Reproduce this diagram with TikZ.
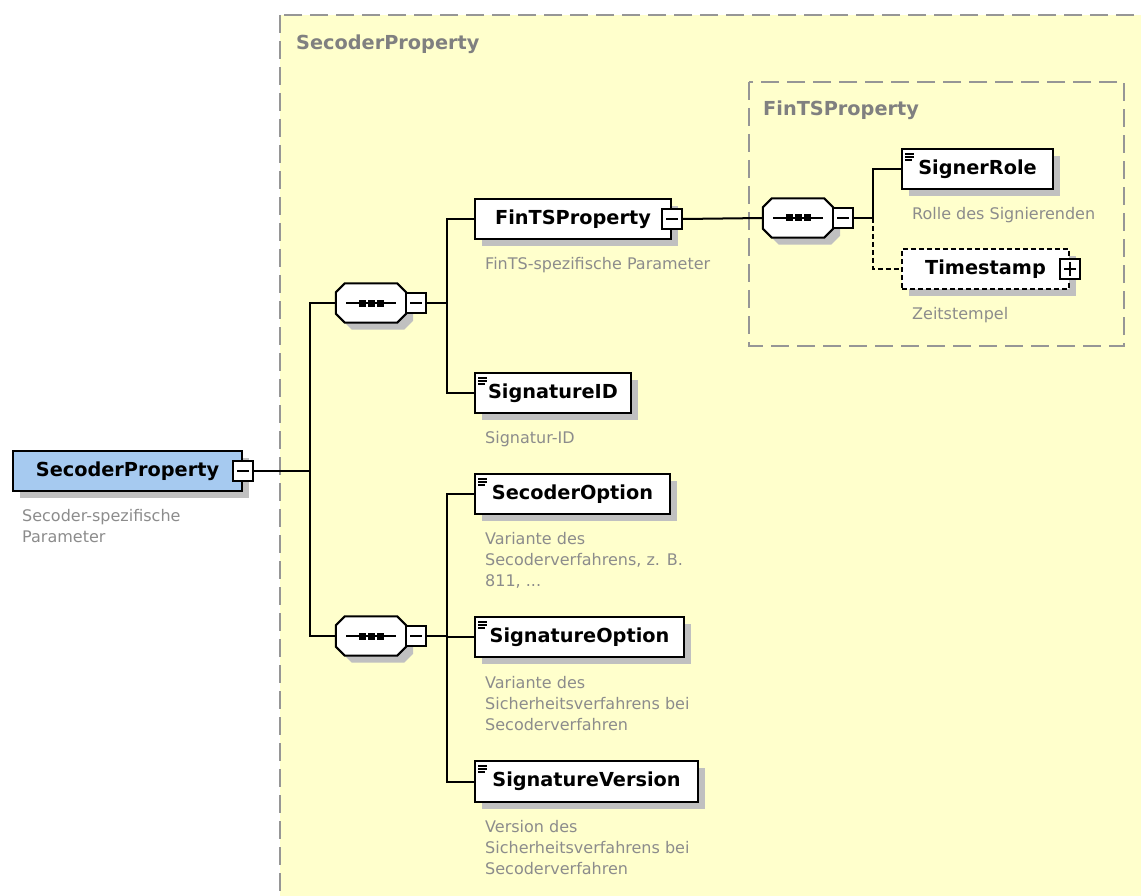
\documentclass[tikz,border=0pt]{standalone}
\usepackage{fontspec}
\setmainfont{DejaVu Sans}
\usetikzlibrary{shadows,calc}
\definecolor{ylw}{RGB}{255,255,204}
\definecolor{rootblue}{RGB}{166,202,240}
\definecolor{shadowgray}{RGB}{192,192,192}
\definecolor{dsc}{RGB}{140,140,140}
\definecolor{hdr}{RGB}{128,128,128}
\definecolor{framegray}{RGB}{150,150,150}
\newcommand\octpath[1]{([xshift=9pt]#1.north west) -- ([xshift=-9pt]#1.north east) -- ([yshift=-9pt]#1.north east) -- ([yshift=9pt]#1.south east) -- ([xshift=-9pt]#1.south east) -- ([xshift=9pt]#1.south west) -- ([yshift=9pt]#1.south west) -- ([yshift=-9pt]#1.north west) -- cycle}
\newcommand\seqoctagon[1]{%
  \fill[shadowgray,transform canvas={shift={(7pt,-7pt)}}] \octpath{#1};
  \draw[line width=2pt,fill=white] \octpath{#1};
  \draw[line width=1.6pt] ([xshift=-25pt]#1.center) -- ([xshift=25pt]#1.center);
  \foreach \dx in {-9,0,9}
    \fill[black] ([shift={(\dx pt-3.5pt,-3.5pt)}]#1.center) rectangle ++(7pt,7pt);
}
\begin{document}
\begin{tikzpicture}[x=1pt,y=-1pt,
  shad/.style={drop shadow={shadow xshift=7pt,shadow yshift=-7pt,fill=shadowgray,opacity=1}},
  elem/.style={draw,line width=2pt,fill=white,anchor=north west,minimum height=40pt,
    inner sep=0pt,font=\bfseries\fontsize{19.3}{23}\selectfont,shad},
  simple/.style={path picture={
    \foreach \w/\dy in {9/5,9/8,7/11}
      \draw[black,line width=1.3pt] ([shift={(3pt,-\dy pt)}]path picture bounding box.north west) -- ++(\w pt,0pt);}},
  seqnode/.style={rectangle,minimum width=70pt,minimum height=39pt,inner sep=0pt},
  mbox/.style={draw,line width=1.6pt,fill=white,minimum size=20pt,inner sep=0pt,
    path picture={\draw[black,line width=1.6pt] ([xshift=4pt]path picture bounding box.west) -- ([xshift=-4pt]path picture bounding box.east);}},
  desc/.style={anchor=north west,inner sep=0pt,align=left,text=dsc,font=\fontsize{16}{21}\selectfont},
  hdrlabel/.style={anchor=north west,inner sep=0pt,text=hdr,font=\bfseries\fontsize{19.3}{23}\selectfont},
  conn/.style={line width=2pt},
  framebox/.style={draw=framegray,line width=2pt,dash pattern=on 18pt off 8pt,fill=ylw}
]
\useasboundingbox (0,0) rectangle (1141,896);
\clip (0,0) rectangle (1141,896);
\fill[white] (0,0) rectangle (1141,896);

% containers
\path[framebox] (280,15) rectangle (1170,930);
\node[hdrlabel] (h1) at (296,35) {SecoderProperty};
\path[framebox] (749,82) rectangle (1124,346);
\node[hdrlabel] (h2) at (763,101) {FinTSProperty};

% root
\node[elem,fill=rootblue,minimum width=229pt] (root) at (12,450) {SecoderProperty};
\node[mbox] (rootm) at (root.east) {};
\node[desc] (droot) at ([shift={(10,17)}]root.south west) {Secoder-spezifische\\Parameter};

% sequences
\node[seqnode] (seq1) at (371,303) {};
\seqoctagon{seq1}
\node[mbox,anchor=west] (seq1m) at ([xshift=-1pt]seq1.east) {};
\node[seqnode] (seq2) at (371,636) {};
\seqoctagon{seq2}
\node[mbox,anchor=west] (seq2m) at ([xshift=-1pt]seq2.east) {};

% first group
\node[elem,minimum width=196pt] (fints) at (474,198) {FinTSProperty};
\node[mbox] (fintsm) at (fints.east) {};
\node[desc] (dfints) at ([shift={(11,17)}]fints.south west) {FinTS-spezifische Parameter};
\node[elem,simple,minimum width=156pt] (sigid) at (474,372) {SignatureID};
\node[desc] (dsigid) at ([shift={(11,17)}]sigid.south west) {Signatur-ID};

% second group
\node[elem,simple,minimum width=195pt] (secopt) at (474,473) {SecoderOption};
\node[desc] (dsecopt) at ([shift={(11,17)}]secopt.south west) {Variante des\\Secoderverfahrens, z. B.\\811, ...};
\node[elem,simple,minimum width=209pt] (sigopt) at (474,616) {SignatureOption};
\node[desc] (dsigopt) at ([shift={(11,18)}]sigopt.south west) {Variante des\\Sicherheitsverfahrens bei\\Secoderverfahren};
\node[elem,simple,minimum width=223pt,minimum height=41pt] (sigver) at (474,760) {SignatureVersion};
\node[desc] (dsigver) at ([shift={(11,17)}]sigver.south west) {Version des\\Sicherheitsverfahrens bei\\Secoderverfahren};

% FinTSProperty content
\node[seqnode] (seq3) at (798,218) {};
\seqoctagon{seq3}
\node[mbox,anchor=west] (seq3m) at ([xshift=-1pt]seq3.east) {};
\node[elem,simple,minimum width=151pt] (signer) at (901,148) {SignerRole};
\node[desc] (dsigner) at ([shift={(11,17)}]signer.south west) {Rolle des Signierenden};
\node[elem,dash pattern=on 5pt off 3pt,minimum width=167pt] (ts) at (901,248) {Timestamp};
\node[mbox] (tsp) at (ts.east) {};
\draw[line width=1.6pt] ([yshift=4pt]tsp.south) -- ([yshift=-4pt]tsp.north);
\node[desc] (dts) at ([shift={(11,17)}]ts.south west) {Zeitstempel};

% connectors
\coordinate (j0) at ([xshift=56pt]rootm.east);
\coordinate (j1) at ([xshift=20pt]seq1m.east);
\coordinate (j2) at ([xshift=20pt]seq2m.east);
\coordinate (j3) at ([xshift=19pt]seq3m.east);
\draw[conn] (rootm.east) -- (j0) |- (seq1.west);
\draw[conn] (j0) |- (seq2.west);
\draw[conn] (seq1m.east) -- (j1) |- (fints.west);
\draw[conn] (j1) |- (sigid.west);
\draw[conn] (seq2m.east) -- (j2) |- (secopt.west);
\draw[conn] (j2) |- (sigopt.west);
\draw[conn] (j2) |- (sigver.west);
\draw[conn] (fintsm.east) -- (seq3.west);
\draw[conn] (seq3m.east) -- (j3) |- (signer.west);
\draw[conn,dash pattern=on 5pt off 3pt] (j3) |- (ts.west);
\end{tikzpicture}
\end{document}
